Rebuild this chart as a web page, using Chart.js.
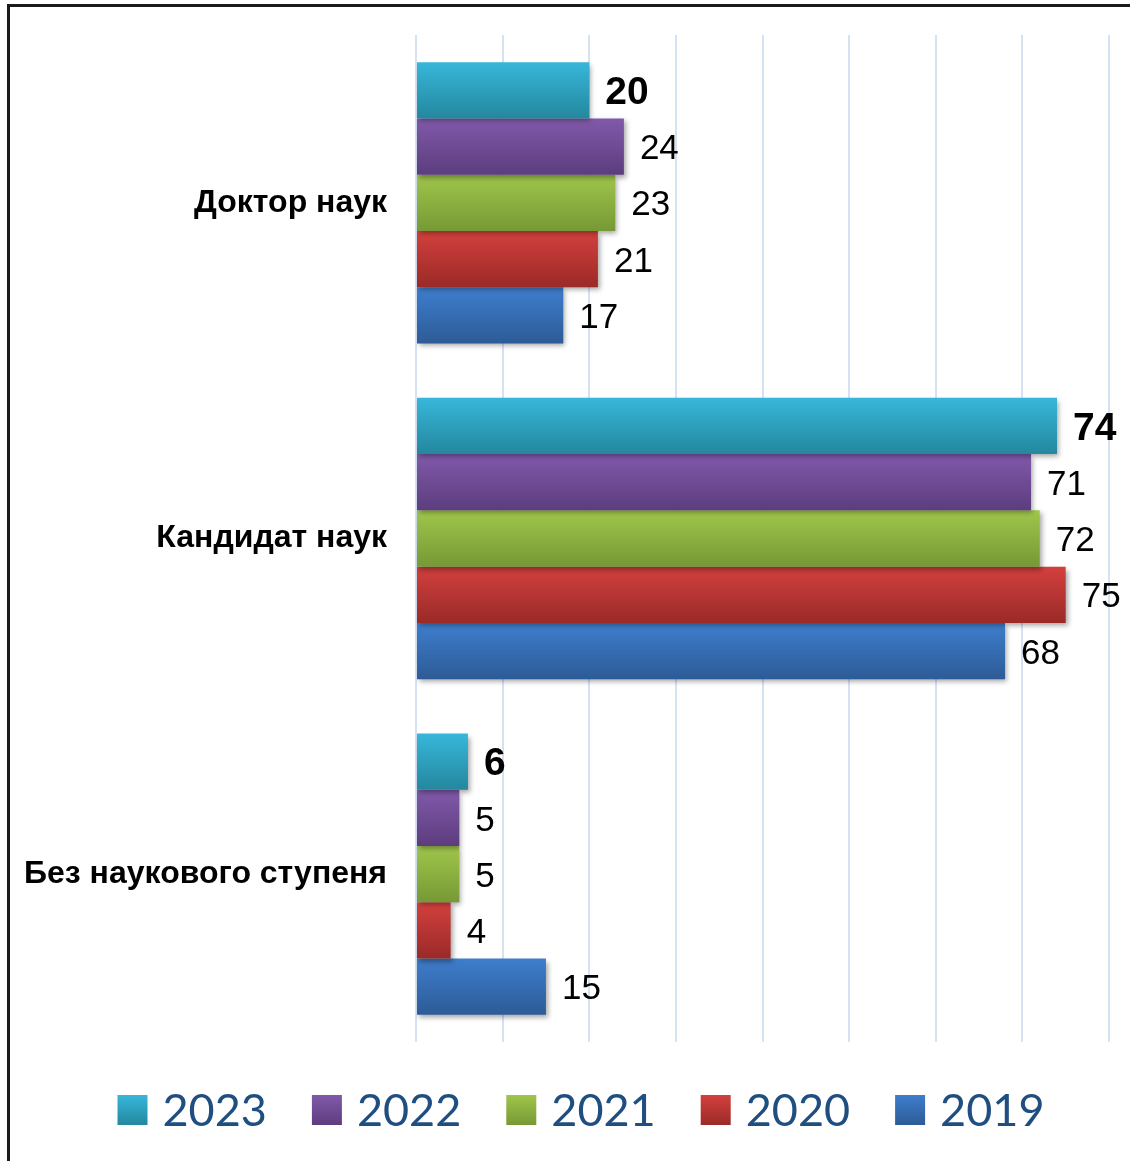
<!DOCTYPE html>
<html lang="uk">
<head>
  <meta charset="UTF-8" />
  <title>Науковий ступінь</title>
  <script src="https://cdn.jsdelivr.net/npm/chart.js"></script>
  <style>
    html, body { margin: 0; padding: 0; background: #fff; overflow: hidden; }
    #wrap { position: relative; width: 1130px; height: 1161px; }
    #ramka {
      position: absolute; left: 7px; top: 4px; width: 1200px; height: 1200px;
      border-left: 3px solid #1a1a1a; border-top: 3px solid #1a1a1a;
    }
    canvas { position: absolute; left: 0; top: 0; }
  </style>
</head>
<body>
  <div id="wrap">
    <div id="ramka"></div>
    <canvas id="grafik" width="1130" height="1161"></canvas>
  </div>

  <script>
    // дані
    const kategorii = ['Доктор наук', 'Кандидат наук', 'Без наукового ступеня'];
    const roky = ['2023', '2022', '2021', '2020', '2019'];
    const v2023 = [20, 74, 6];
    const v2022 = [24, 71, 5];
    const v2021 = [23, 72, 5];
    const v2020 = [21, 75, 4];
    const v2019 = [17, 68, 15];
    const xTicks = [0, 10, 20, 30, 40, 50, 60, 70, 80];

    // кольори: верх / низ градієнта
    const kolory = [
      ['#37b7da', '#24879e'],
      ['#8159aa', '#5c3d7e'],
      ['#a0c64b', '#769935'],
      ['#d3403d', '#9a2a28'],
      ['#3e7ecd', '#2d5b96']
    ];
    const znachennia = [v2023, v2022, v2021, v2020, v2019];
    const shryft = 'Arial, "Liberation Sans", sans-serif';

    const gradientBars = {
      id: 'gradientBars',
      beforeDatasetsDraw(chart) {
        const ctx = chart.ctx;
        chart.data.datasets.forEach((ds, i) => {
          chart.getDatasetMeta(i).data.forEach(el => {
            const { y, height } = el.getProps(['y', 'height'], true);
            const g = ctx.createLinearGradient(0, y - height / 2, 0, y + height / 2);
            g.addColorStop(0, kolory[i][0]);
            g.addColorStop(1, kolory[i][1]);
            el.options.backgroundColor = g;
          });
        });
        ctx.save();
        ctx.shadowColor = 'rgba(0,0,0,0.35)';
        ctx.shadowBlur = 5;
        ctx.shadowOffsetX = 2;
        ctx.shadowOffsetY = 3;
      },
      afterDatasetsDraw(chart) {
        const ctx = chart.ctx;
        ctx.restore();
        // підписи значень
        ctx.save();
        ctx.fillStyle = '#000';
        ctx.textAlign = 'left';
        ctx.textBaseline = 'middle';
        chart.data.datasets.forEach((ds, i) => {
          ctx.font = (i === 0 ? 'bold 39px ' : '35px ') + shryft;
          chart.getDatasetMeta(i).data.forEach((el, j) => {
            const { x, y } = el.getProps(['x', 'y'], true);
            ctx.fillText(String(ds.data[j]), x + 16, y + 3);
          });
        });
        ctx.restore();
      }
    };

    const legendaZnyzu = {
      id: 'legendaZnyzu',
      afterDraw(chart) {
        const ctx = chart.ctx;
        ctx.save();
        ctx.font = '45px Lato';
        const box = 30, gap = 15, spacing = 45;
        const widths = roky.map(r => ctx.measureText(r).width);
        const total = widths.reduce((a, w) => a + box + gap + w, 0) + spacing * (roky.length - 1);
        let x = 581 - total / 2;
        const cy = 1110;
        roky.forEach((r, i) => {
          const g = ctx.createLinearGradient(0, cy - box / 2, 0, cy + box / 2);
          g.addColorStop(0, kolory[i][0]);
          g.addColorStop(1, kolory[i][1]);
          ctx.fillStyle = g;
          ctx.fillRect(x, cy - box / 2, box, box);
          ctx.fillStyle = '#1f4e80';
          ctx.textAlign = 'left';
          ctx.textBaseline = 'middle';
          ctx.fillText(r, x + box + gap, cy + 1);
          x += box + gap + widths[i] + spacing;
        });
        ctx.restore();
      }
    };

    new Chart(document.getElementById('grafik'), {
      type: 'bar',
      data: {
        labels: kategorii,
        datasets: roky.map((r, i) => ({
          label: r,
          data: znachennia[i],
          backgroundColor: () => kolory[i][0],
          borderWidth: 0,
          categoryPercentage: 0.838,
          barPercentage: 1
        }))
      },
      options: {
        indexAxis: 'y',
        responsive: false,
        animation: false,
        layout: { padding: { top: 35, right: 21, left: 0, bottom: 0 } },
        plugins: {
          legend: { display: false },
          tooltip: { enabled: false }
        },
        scales: {
          x: {
            min: 0,
            max: 80,
            afterBuildTicks: s => { s.ticks = xTicks.map(v => ({ value: v })); },
            ticks: { display: false },
            grid: { color: '#d5e2f4', lineWidth: 2, drawTicks: false },
            border: { display: false },
            afterFit: s => { s.height = 119; }
          },
          y: {
            grid: { display: false, drawTicks: false },
            border: { display: false },
            ticks: {
              padding: 29,
              color: '#000',
              font: { family: shryft, size: 32, weight: 'bold' }
            },
            afterFit: s => {
              s.width = 416;
              s.paddingTop = 0;
              s.paddingBottom = 0;
            }
          }
        }
      },
      plugins: [gradientBars, legendaZnyzu]
    });
  </script>
</body>
</html>
